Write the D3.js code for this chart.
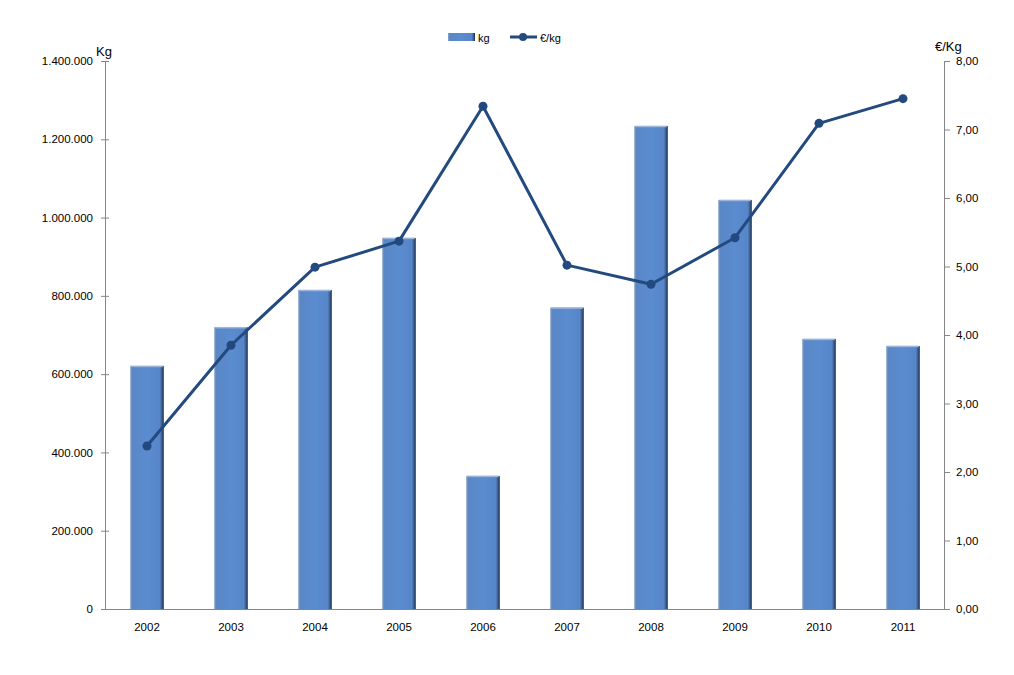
<!DOCTYPE html>
<html><head><meta charset="utf-8">
<script src="https://cdn.jsdelivr.net/npm/d3@7"></script>
<style>body{margin:0;background:#fff}svg{display:block}text{font-family:"Liberation Sans",Arial,sans-serif}</style>
</head><body><svg id="c" width="1014" height="675"></svg>
<script>
const years=["2002","2003","2004","2005","2006","2007","2008","2009","2010","2011"];
const kg=[621000,720000,815000,948000,340000,770000,1234000,1045000,690000,672000];
const eurKg=[2.38,3.85,4.99,5.37,7.34,5.02,4.74,5.42,7.09,7.45];
const leftTicks=[0,200000,400000,600000,800000,1000000,1200000,1400000];
const rightTicks=[0,1,2,3,4,5,6,7,8];

const svg=d3.select("#c");
const L=105,R=945,T=61,B=609;
const x=d3.scaleBand().domain(years).range([L,R]).paddingInner(0.6).paddingOuter(0.3);
const yL=d3.scaleLinear().domain([0,1400000]).range([B,T]);
const yR=d3.scaleLinear().domain([0,8]).range([B,T]);
const fmtL=v=>v===0?"0":d3.format(",")(v).replace(/,/g,".");
const fmtR=v=>d3.format(".2f")(v).replace(".",",");

const defs=svg.append("defs");
const g=defs.append("linearGradient").attr("id","bg").attr("x1","0").attr("x2","1").attr("y1","0").attr("y2","0");
[[0,"#8ea6c6"],[0.06,"#5a87c5"],[0.5,"#5b8cd0"],[0.88,"#5686c8"],[0.94,"#3b5f8f"],[1,"#1c2f48"]].forEach(s=>g.append("stop").attr("offset",s[0]).attr("stop-color",s[1]));

// bars
svg.append("g").selectAll("rect").data(kg).join("rect")
 .attr("x",(d,i)=>x(years[i])).attr("width",x.bandwidth())
 .attr("y",d=>yL(d)).attr("height",d=>B-yL(d)).attr("fill","url(#bg)");
svg.append("g").selectAll("line").data(kg).join("line")
 .attr("x1",(d,i)=>x(years[i])+1).attr("x2",(d,i)=>x(years[i])+x.bandwidth()-1)
 .attr("y1",d=>yL(d)+0.5).attr("y2",d=>yL(d)+0.5).attr("stroke","#9db5d8").attr("stroke-width",1.5);

// axes
const axC="#868686";
const gl=svg.append("g").attr("transform",`translate(${L},0)`).call(d3.axisLeft(yL).tickValues(leftTicks).tickFormat(fmtL).tickSize(4).tickPadding(8));
gl.selectAll(".tick line").attr("x2",-4).attr("x1",4);
const gr=svg.append("g").attr("transform",`translate(${R},0)`).call(d3.axisRight(yR).tickValues(rightTicks).tickFormat(fmtR).tickSize(5).tickPadding(6));
[gl,gr].forEach(a=>{a.selectAll(".tick line").attr("stroke",axC);a.selectAll("text").attr("font-size",11.5).attr("fill","#000");});
gl.select(".domain").remove();gr.select(".domain").remove();
svg.append("line").attr("x1",L+0.5).attr("x2",L+0.5).attr("y1",T).attr("y2",B).attr("stroke",axC);
svg.append("line").attr("x1",R-0.5).attr("x2",R-0.5).attr("y1",T).attr("y2",B).attr("stroke",axC);
const gx=svg.append("g").attr("transform",`translate(0,${B})`).call(d3.axisBottom(x).tickSize(0).tickPadding(14));
gx.select(".domain").remove();
gx.selectAll("text").attr("font-size",11.5).attr("fill","#000");
svg.append("line").attr("x1",L-4).attr("x2",R+3).attr("y1",B+0.5).attr("y2",B+0.5).attr("stroke",axC);

// line
const lc="#234a7f";
const line=d3.line().x((d,i)=>x(years[i])+x.bandwidth()/2).y(d=>yR(d));
svg.append("path").datum(eurKg).attr("d",line).attr("fill","none").attr("stroke",lc).attr("stroke-width",3).attr("stroke-linejoin","round");
svg.append("g").selectAll("circle").data(eurKg).join("circle")
 .attr("cx",(d,i)=>x(years[i])+x.bandwidth()/2).attr("cy",d=>yR(d)).attr("r",4.5).attr("fill",lc);

// axis titles
svg.append("text").attr("x",96).attr("y",56).attr("font-size",13).text("Kg");
svg.append("text").attr("x",935).attr("y",51).attr("font-size",13).text("€/Kg");

// legend
svg.append("rect").attr("x",448).attr("y",33).attr("width",27).attr("height",8).attr("fill","url(#bg)");
svg.append("text").attr("x",478).attr("y",42).attr("font-size",11).text("kg");
svg.append("line").attr("x1",510).attr("x2",537).attr("y1",37).attr("y2",37).attr("stroke",lc).attr("stroke-width",3);
svg.append("circle").attr("cx",523).attr("cy",37).attr("r",4).attr("fill",lc);
svg.append("text").attr("x",540).attr("y",42).attr("font-size",11).text("€/kg");
</script></body></html>
